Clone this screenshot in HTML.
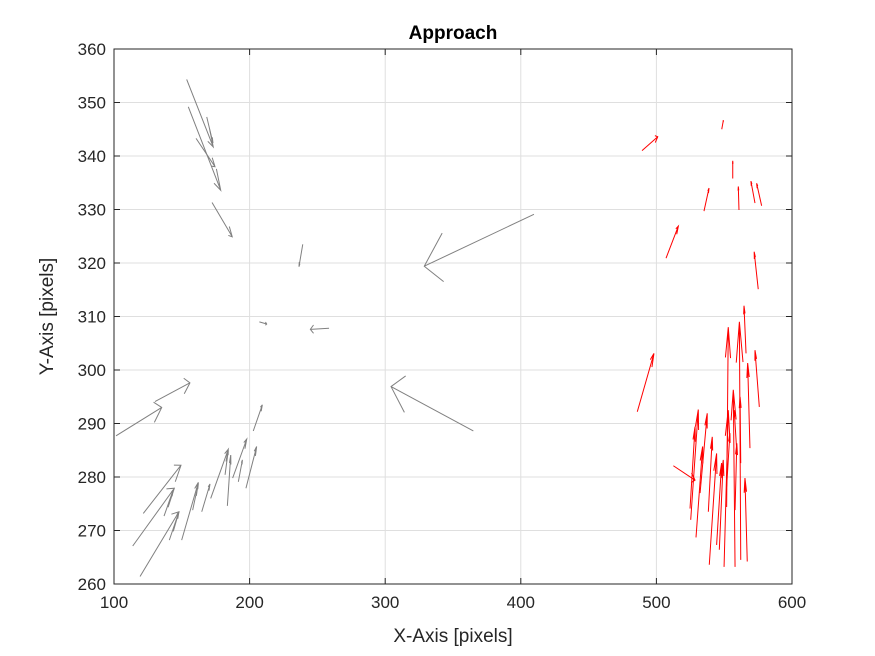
<!DOCTYPE html>
<html><head><meta charset="utf-8"><style>
body{margin:0;background:#fff;}
svg{display:block;font-family:"Liberation Sans",Arial,sans-serif;}
</style></head><body>
<svg id="chart" width="875" height="656" viewBox="0 0 875 656" xmlns="http://www.w3.org/2000/svg">
<rect width="875" height="656" fill="#fff"/>
<g id="grid"></g><g id="arrows"></g><g id="axes"></g>
</svg>
<script>
// Gray series: tail x, tail y, u, v
const grayX=[153.6,154.8,160.5,168.4,172.3,239.2,409.7,207.2,258.6,101.5,130.2,365.0,202.7,121.6,113.8,119.2,140.8,136.9,149.9,158.0,164.7,171.3,183.6,181.9,187.5,197.3,191.7];
const grayY=[354.3,349.2,343.3,347.3,331.3,323.5,329.1,309.0,307.8,287.7,294.1,288.6,288.6,273.2,267.1,261.4,268.2,272.7,268.2,273.8,273.5,276.0,274.6,280.4,279.8,277.9,279.1];
const grayU=[19.6,23.9,14,4.6,14.9,-2.8,-80.9,5.4,-13.8,33.7,25.8,-60.7,6.7,27.8,30.7,28.7,7.1,6.8,12.3,4.2,6.1,13,2.5,2.4,10.4,7.9,3];
const grayV=[-12.6,-15.6,-5.3,-4.9,-6.4,-4.2,-9.7,-0.4,-0.2,5.3,3.5,8.3,4.9,9,10.8,12.1,5.3,4.9,10.8,5,5.2,9.2,9.5,4.6,7.3,7.8,4.1];
// Red series
const redX=[489.4,548.2,556.3,535.1,560.9,572.7,577.6,507.1,575.1,485.9,512.5,525.3,524.8,529.2,532.2,538.3,539.0,544.4,546.4,549.9,551.8,558.0,559.2,562.2,562.2,566.1,567.0,569.0,575.9,558.0,551.8];
const redY=[341.0,345.0,335.8,329.7,329.9,331.2,330.7,320.9,315.1,292.2,282.1,272.0,274.1,268.7,277.0,273.5,263.6,267.3,266.4,263.2,274.4,263.2,285.0,264.5,282.6,303.1,264.2,285.4,293.1,273.8,278.2];
const redU=[11.6,1.2,0,3.7,-0.5,-3,-3.7,9.1,-3,12.3,16,5.6,3.7,4.9,5.3,2.9,5.4,3.7,2.9,3.1,1.2,-1.3,-1.8,-1,-0.5,-1.5,-1.7,-1.7,-3.2,1.3,2.4];
const redV=[2.6,1.7,3.3,4.3,4.4,4.1,4.2,6,7,10.9,-2.7,20.6,15.3,17,14.9,14,20.8,15.3,16.8,29.3,33.6,33.1,7.5,44.5,12.4,8.9,15.6,15.9,10.6,12.5,10];
const xTicks=[100,200,300,400,500,600];
const yTicks=[260,270,280,290,300,310,320,330,340,350,360];

const NS="http://www.w3.org/2000/svg";
const L=114,R=792,T=49,B=584;
const sx=v=>L+(v-100)/500*(R-L);
const sy=v=>B-(v-260)/100*(B-T);
function mk(tag,at,parent){const e=document.createElementNS(NS,tag);for(const k in at)e.setAttribute(k,at[k]);parent.appendChild(e);return e;}
const grid=document.getElementById('grid'),axes=document.getElementById('axes'),arrows=document.getElementById('arrows');
xTicks.forEach(t=>{
 const g=mk('line',{x1:sx(t),x2:sx(t),y1:T,y2:B,stroke:'#dfdfdf','stroke-width':1},grid);
 
 
 mk('line',{x1:sx(t),x2:sx(t),y1:B,y2:B-6,stroke:'#262626'},axes);
 mk('line',{x1:sx(t),x2:sx(t),y1:T,y2:T+6,stroke:'#262626'},axes);
 const tx=mk('text',{x:sx(t),y:B+24,'text-anchor':'middle','font-size':17,fill:'#262626'},axes);
 tx.textContent=t;
 
 
});
yTicks.forEach(t=>{
 const g=mk('line',{x1:L,x2:R,y1:sy(t),y2:sy(t),stroke:'#dfdfdf','stroke-width':1},grid);
 
 
 mk('line',{x1:L,x2:L+6,y1:sy(t),y2:sy(t),stroke:'#262626'},axes);
 mk('line',{x1:R,x2:R-6,y1:sy(t),y2:sy(t),stroke:'#262626'},axes);
 const tx=mk('text',{x:L-8,y:sy(t)+6,'text-anchor':'end','font-size':17,fill:'#262626'},axes);
 tx.textContent=t;
 
 
});
const box=mk('rect',{x:L,y:T,width:R-L,height:B-T,fill:'none',stroke:'#262626','stroke-width':1},axes);


const title=mk('text',{x:(L+R)/2,y:39,'text-anchor':'middle','font-size':19,'font-weight':'bold',fill:'#000'},axes);
title.textContent='Approach';


const xl=mk('text',{x:(L+R)/2,y:642,'text-anchor':'middle','font-size':19,fill:'#262626'},axes);
xl.textContent='X-Axis [pixels]';


const yl=mk('text',{x:0,y:0,'text-anchor':'middle','font-size':19,fill:'#262626',transform:'translate(53,'+((T+B)/2)+') rotate(-90)'},axes);
yl.textContent='Y-Axis [pixels]';



function drawSeries(X,Y,U,V,color,name){
 const a=0.17,b=0.33;
 for(let i=0;i<X.length;i++){
  const u=U[i],v=V[i],xe=X[i]+u,ye=Y[i]+v;
  const x1=sx(X[i]),y1=sy(Y[i]),x2=sx(xe),y2=sy(ye);
  const h1x=sx(xe-a*(u+b*v)),h1y=sy(ye-a*(v-b*u));
  const h2x=sx(xe-a*(u-b*v)),h2y=sy(ye-a*(v+b*u));
  const p=mk('path',{d:`M${x1},${y1}L${x2},${y2}M${h1x},${h1y}L${x2},${y2}L${h2x},${h2y}`,stroke:color,'stroke-width':1,fill:'none'},arrows);
  
  
 }
}
drawSeries(grayX,grayY,grayU,grayV,'#808080','gray-arrow');
drawSeries(redX,redY,redU,redV,'#ff0000','red-arrow');
</script>
</body></html>
